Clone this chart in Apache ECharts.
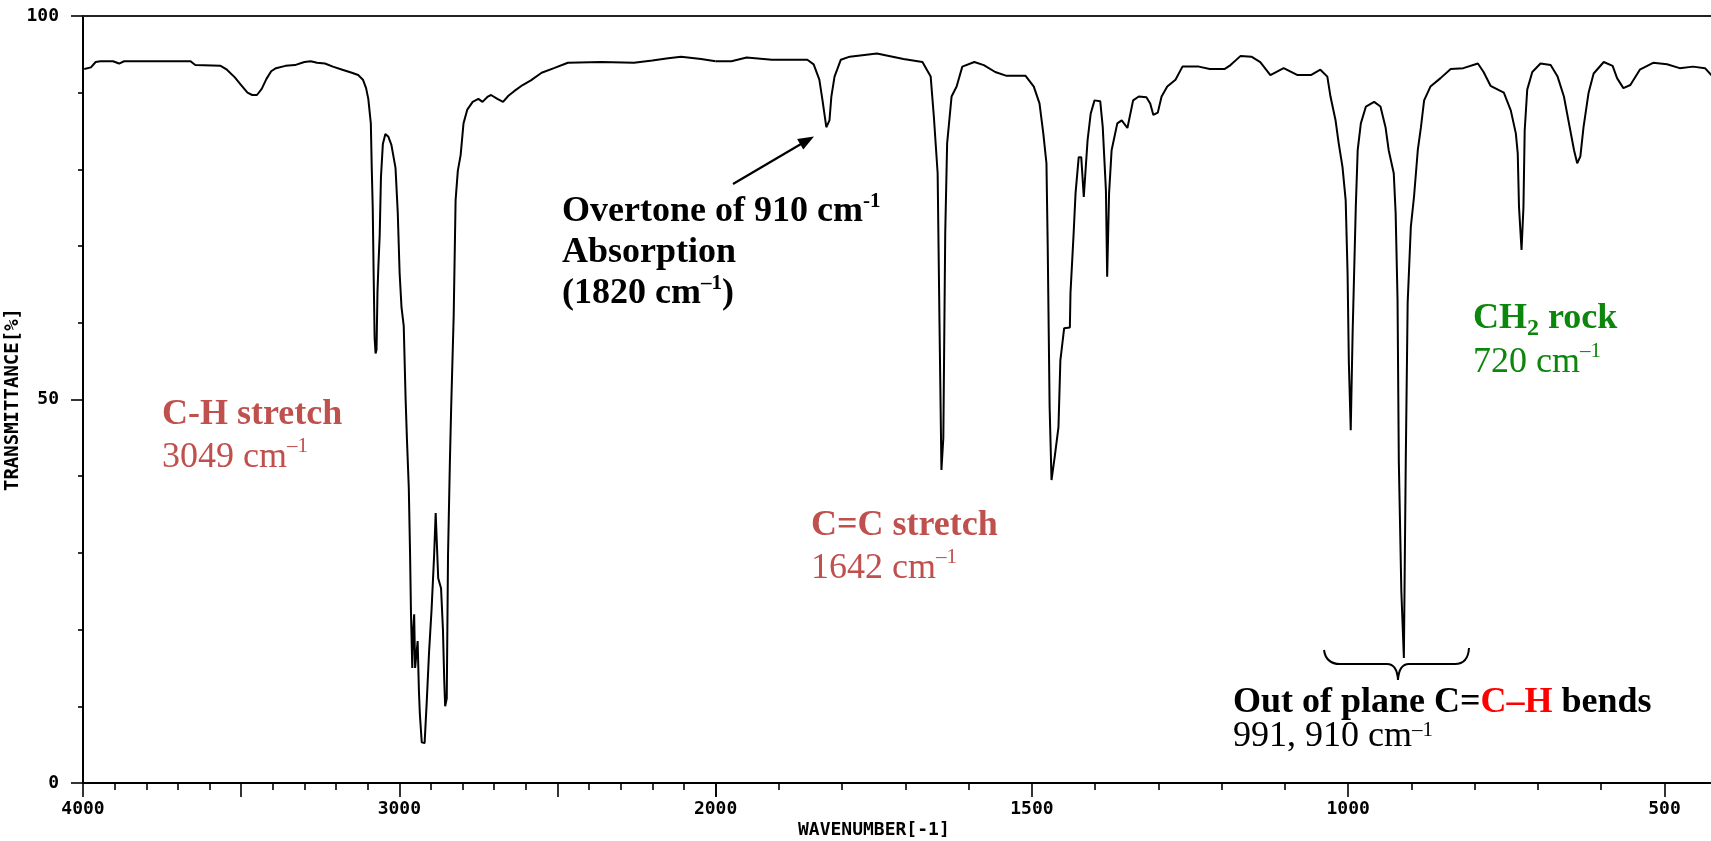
<!DOCTYPE html>
<html>
<head>
<meta charset="utf-8">
<script src="https://cdn.jsdelivr.net/npm/echarts@6/dist/echarts.min.js"></script>
<style>
html,body{margin:0;padding:0;background:#fff;}
#chart{width:1711px;height:841px;}
</style>
</head>
<body>
<div id="chart"></div>
<script>
// ---- data: wavenumber (cm-1) and transmittance (%) ----
// high-wavenumber panel (4000 -> 2000 cm-1)
const wnHigh = [3996,3975,3960,3945,3905,3886,3870,3800,3660,3645,3565,3545,3520,3500,3480,3465,3450,3435,3420,3405,3390,3360,3330,3300,3280,3260,3235,3210,3180,3150,3130,3115,3105,3098,3090,3087,3084,3081,3078,3075,3072,3069,3066,3062,3058,3052,3044,3035,3025,3012,3005,2999,2993,2986,2980,2976,2970,2966,2963,2959,2956,2953,2950,2946,2942,2938,2935,2929,2920,2913,2906,2898,2890,2885,2880,2877,2868,2862,2858,2855,2850,2846,2840,2836,2828,2822,2815,2806,2797,2785,2768,2750,2737,2720,2710,2690,2672,2655,2637,2610,2584,2550,2511,2467,2362,2258,2200,2150,2109,2046,2000];
const tHigh  = [93.1,93.3,94.0,94.1,94.1,93.8,94.1,94.1,94.1,93.6,93.5,93.0,92.0,91.0,90.0,89.7,89.7,90.5,91.8,92.8,93.2,93.5,93.6,94.0,94.1,93.9,93.8,93.4,93.0,92.6,92.3,91.7,90.6,89.2,86.0,80.0,75.0,66.0,58.0,56.0,56.5,64.0,67.5,71.4,79.0,83.3,84.6,84.3,83.2,80.2,74.5,66.5,62.0,59.6,50.0,45.0,38.5,30.0,22.0,15.0,20.0,22.0,15.0,15.0,18.5,12.0,9.0,5.3,5.2,10.8,17.0,22.6,29.6,35.2,35.2,26.7,25.4,20.0,13.5,10.0,11.0,29.6,42.0,49.0,61.0,76.0,79.8,81.9,86.0,87.8,88.8,89.2,88.8,89.5,89.7,89.2,88.8,89.6,90.2,91.0,91.6,92.6,93.2,93.9,94.0,93.9,94.2,94.5,94.7,94.4,94.1];
// low-wavenumber panel (2000 -> 400 cm-1)
const wnLow = [2000,1975,1951,1911,1855,1845,1836,1831,1825,1820,1817,1812,1802,1788,1745,1703,1673,1660,1655,1649,1646,1643,1640,1637,1634,1627,1619,1610,1591,1576,1558,1540,1510,1497,1488,1482,1477,1475,1472,1469,1464,1458,1455,1449,1440,1439,1434,1431,1426,1422,1418,1416,1412,1407,1401,1392,1388,1383,1381,1378,1374,1365,1358,1349,1346,1340,1331,1319,1313,1308,1301,1295,1286,1273,1262,1236,1219,1195,1186,1170,1153,1139,1123,1102,1080,1059,1044,1033,1028,1020,1015,1009,1004,1001,999,996,993,988,985,980,972,959,949,941,936,928,925,922,920,916,912,910,909,906,901,896,890,885,880,870,854,838,818,795,786,775,754,743,735,732,730,726,723,721,717,709,696,680,669,659,651,643,638,633,628,620,612,596,582,575,565,554,539,518,496,476,455,436,426,410];
const tLow  = [94.1,94.1,94.6,94.3,94.3,93.7,91.7,89.0,85.5,86.4,89.5,92.1,94.3,94.7,95.1,94.4,94.0,92.1,86.9,79.5,59.5,40.8,45.0,71.7,83.4,89.5,90.8,93.4,94.0,93.6,92.7,92.2,92.2,90.8,88.6,84.7,80.8,69.9,49.1,39.5,42.5,46.4,55.1,59.3,59.4,63.9,71.7,76.9,81.6,81.6,76.4,76.2,83.8,87.3,89.0,88.9,85.5,77.3,66.0,76.9,82.5,86.0,86.4,85.4,85.3,89.0,89.5,89.4,88.6,87.1,87.4,89.5,90.8,91.7,93.4,93.4,93.1,93.1,93.6,94.8,94.7,94.0,92.3,93.2,92.3,92.3,93.0,92.1,89.5,86.4,83.4,80.3,76.0,66.5,54.9,46.0,58.7,75.1,82.5,86.0,88.2,88.8,88.2,85.5,82.5,79.5,74.3,63.0,42.0,25.0,16.3,16.5,42.0,62.6,72.5,76.4,82.5,85.5,89.0,90.8,91.9,93.1,93.2,93.8,92.7,90.9,90.0,87.7,84.7,82.1,75.1,69.5,75.0,85.1,90.4,92.7,93.8,93.6,92.1,89.5,86.0,82.5,80.8,81.7,85.5,90.0,92.5,94.0,93.5,91.9,90.6,91.0,93.0,93.9,93.7,93.2,93.4,93.2,92.3,92.0];
// tick labels
const xLabelsHigh = [4000, 3000, 2000];
const xLabelsLow = [1500, 1000, 500];
const yLabels = [0, 50, 100];

const chart = echarts.init(document.getElementById('chart'), null, {renderer: 'canvas'});
const mono = '"DejaVu Sans Mono", monospace';
const serif = '"Liberation Serif", "Times New Roman", serif';
const RED = '#c0504d', GREEN = '#0d860d';

const hi = wnHigh.map((w, i) => [w, tHigh[i]]);
const lo = wnLow.map((w, i) => [w, tLow[i]]);

const axisBase = {
  type: 'value', inverse: true, interval: 500,
  axisLine: {show: true, onZero: false, lineStyle: {color: '#000', width: 2}},
  axisTick: {show: true, length: 14, lineStyle: {color: '#000', width: 1.6}},
  minorTick: {show: true, splitNumber: 5, length: 7, lineStyle: {color: '#000', width: 1.6}},
  splitLine: {show: false}, minorSplitLine: {show: false},
  axisLabel: {fontFamily: mono, fontSize: 18, fontWeight: 'bold', color: '#000', margin: 17}
};
const topBase = {
  type: 'value', position: 'top', inverse: true,
  axisLine: {show: true, onZero: false, lineStyle: {color: '#222', width: 2}},
  axisTick: {show: false}, axisLabel: {show: false}, splitLine: {show: false}
};

const rich = {
  rb: {fontFamily: serif, fontSize: 36, fontWeight: 'bold', fill: RED, lineHeight: 43},
  rr: {fontFamily: serif, fontSize: 36, fill: RED, lineHeight: 43},
  rs: {fontFamily: serif, fontSize: 21, fill: RED, lineHeight: 34, verticalAlign: 'top'},
  kb: {fontFamily: serif, fontSize: 36, fontWeight: 'bold', fill: '#000', lineHeight: 41},
  ks: {fontFamily: serif, fontSize: 21, fontWeight: 'bold', fill: '#000', lineHeight: 34, verticalAlign: 'top'},
  gb: {fontFamily: serif, fontSize: 36, fontWeight: 'bold', fill: GREEN, lineHeight: 44},
  gsub: {fontFamily: serif, fontSize: 24, fontWeight: 'bold', fill: GREEN, lineHeight: 18, verticalAlign: 'bottom'},
  gr: {fontFamily: serif, fontSize: 36, fill: GREEN, lineHeight: 44},
  gs: {fontFamily: serif, fontSize: 21, fill: GREEN, lineHeight: 34, verticalAlign: 'top'},
  ob: {fontFamily: serif, fontSize: 36, fontWeight: 'bold', fill: '#000', lineHeight: 34},
  xb: {fontFamily: serif, fontSize: 36, fontWeight: 'bold', fill: '#ff0000', lineHeight: 34},
  or: {fontFamily: serif, fontSize: 36, fill: '#000', lineHeight: 34},
  os: {fontFamily: serif, fontSize: 21, fill: '#000', lineHeight: 30, verticalAlign: 'top'}
};
function txt(x, y, text) {
  return {type: 'text', x: x, y: y, silent: true, style: {text: text, rich: rich}};
}
function quad(x1, y1, cx, cy, x2, y2) {
  return {type: 'bezierCurve', silent: true, shape: {x1: x1, y1: y1, cpx1: cx, cpy1: cy, x2: x2, y2: y2},
    style: {stroke: '#000', lineWidth: 2, fill: null}};
}
function seg(x1, y1, x2, y2, w) {
  return {type: 'line', silent: true, shape: {x1: x1, y1: y1, x2: x2, y2: y2},
    style: {stroke: '#000', lineWidth: w || 2}};
}

const option = {
  animation: false,
  backgroundColor: '#fff',
  grid: [
    {left: 83, top: 16, width: 632.6, height: 767, outerBoundsMode: 'none'},
    {left: 715.6, top: 16, width: 1265.2, height: 767, outerBoundsMode: 'none'}
  ],
  xAxis: [
    Object.assign({}, axisBase, {gridIndex: 0, min: 2000, max: 4000,
      axisLabel: Object.assign({}, axisBase.axisLabel, {formatter: v => xLabelsHigh.includes(v) ? String(v) : ''})}),
    Object.assign({}, axisBase, {gridIndex: 1, min: 0, max: 2000,
      axisLabel: Object.assign({}, axisBase.axisLabel, {formatter: v => xLabelsLow.includes(v) ? String(v) : ''})}),
    Object.assign({}, topBase, {gridIndex: 0, min: 2000, max: 4000}),
    Object.assign({}, topBase, {gridIndex: 1, min: 0, max: 2000})
  ],
  yAxis: [
    {gridIndex: 0, type: 'value', min: 0, max: 100, interval: 50,
      axisLine: {show: true, lineStyle: {color: '#000', width: 2}},
      axisTick: {show: true, length: 12, lineStyle: {color: '#000', width: 1.6}},
      minorTick: {show: true, splitNumber: 5, length: 5, lineStyle: {color: '#000', width: 1.6}},
      splitLine: {show: false},
      axisLabel: {fontFamily: mono, fontSize: 18, fontWeight: 'bold', color: '#000', margin: 24,
        formatter: v => yLabels.includes(v) ? String(v) : ''},
      name: 'TRANSMITTANCE[%]', nameLocation: 'middle', nameGap: 41, nameRotate: 90,
      nameTextStyle: {fontFamily: mono, fontSize: 19, fontWeight: 'bold', color: '#000'}},
    {gridIndex: 1, type: 'value', min: 0, max: 100, show: false}
  ],
  series: [
    {type: 'line', xAxisIndex: 0, yAxisIndex: 0, data: hi, showSymbol: false, symbol: 'none',
      lineStyle: {color: '#000', width: 2}, silent: true},
    {type: 'line', xAxisIndex: 1, yAxisIndex: 1, data: lo, showSymbol: false, symbol: 'none',
      lineStyle: {color: '#000', width: 2}, silent: true}
  ],
  graphic: [
    {type: 'text', x: 798, y: 830, silent: true,
      style: {text: 'WAVENUMBER[-1]', font: 'bold 18px "DejaVu Sans Mono", monospace', fill: '#000', verticalAlign: 'middle'}},
    txt(162, 393, '{rb|C-H stretch}\n{rr|3049 cm}{rs|–1}'),
    txt(562, 191, '{kb|Overtone of 910 cm}{ks|-1}\n{kb|Absorption}\n{kb|(1820 cm}{ks|–1}{kb|)}'),
    txt(811, 504, '{rb|C=C stretch}\n{rr|1642 cm}{rs|–1}'),
    txt(1473, 297, '{gb|CH}{gsub|2}{gb| rock}\n{gr|720 cm}{gs|–1}'),
    txt(1233, 686, '{ob|Out of plane C=}{xb|C–H}{ob| bends}\n{or|991, 910 cm}{os|–1}'),
    seg(733, 184, 801, 144, 2.2),
    {type: 'polygon', silent: true, shape: {points: [[814, 136.5], [803.3, 149.4], [797.1, 139.0]]},
      style: {fill: '#000'}},
    quad(1324, 650, 1326, 664, 1340, 664),
    seg(1340, 664, 1387, 664),
    quad(1387, 664, 1397, 664, 1398, 680),
    quad(1398, 680, 1399, 664, 1409, 664),
    seg(1409, 664, 1455, 664),
    quad(1455, 664, 1468, 664, 1469, 648)
  ]
};
chart.setOption(option);
</script>
</body>
</html>
